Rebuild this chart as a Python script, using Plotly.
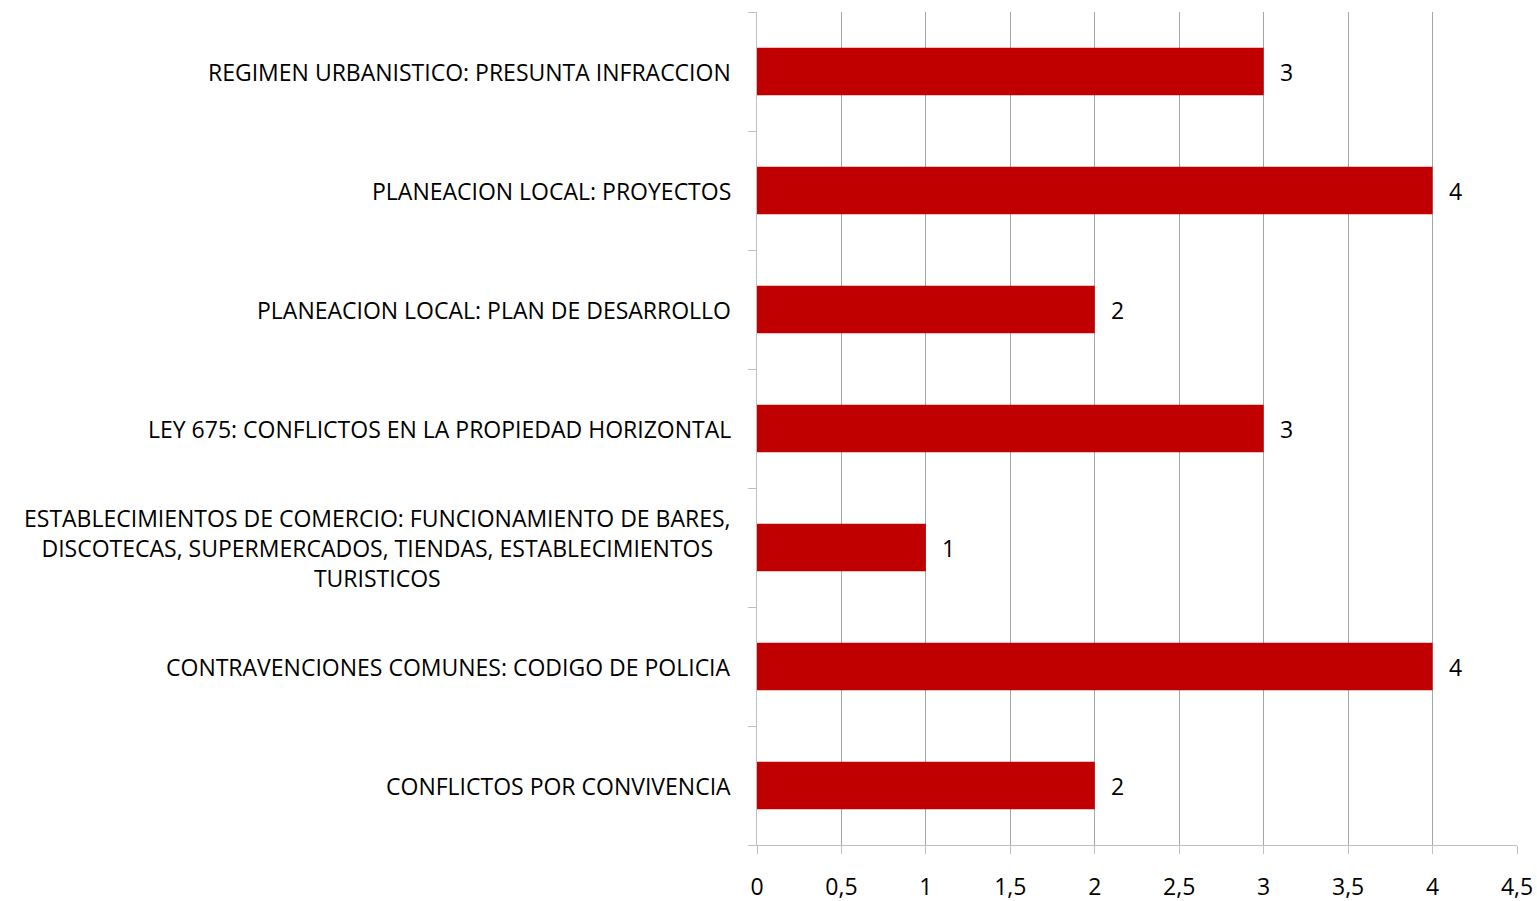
import plotly.graph_objects as go

categories = [
    "REGIMEN URBANISTICO: PRESUNTA INFRACCION",
    "PLANEACION LOCAL: PROYECTOS",
    "PLANEACION LOCAL: PLAN DE DESARROLLO",
    "LEY 675: CONFLICTOS EN LA PROPIEDAD HORIZONTAL",
    "ESTABLECIMIENTOS DE COMERCIO: FUNCIONAMIENTO DE BARES,<br>DISCOTECAS, SUPERMERCADOS, TIENDAS, ESTABLECIMIENTOS<br>TURISTICOS",
    "CONTRAVENCIONES COMUNES: CODIGO DE POLICIA",
    "CONFLICTOS POR CONVIVENCIA",
]
values = [3, 4, 2, 3, 1, 4, 2]

FONT = "Open Sans"
FS = 23
fig = go.Figure()
fig.add_trace(go.Bar(
    x=values, y=list(range(len(categories))), orientation="h",
    marker=dict(color="#C00000", line=dict(width=0)),
    width=0.4, hoverinfo="skip",
))

for i, c in enumerate(categories):
    fig.add_annotation(
        x=0, xref="paper", y=i, yref="y", text=c, showarrow=False,
        xanchor="right", yanchor="middle", align="center", xshift=-24,
        font=dict(family=FONT, size=FS, color="#000000"),
    )
    fig.add_annotation(
        x=values[i], xref="x", y=i, yref="y", text=str(values[i]), showarrow=False,
        xanchor="left", yanchor="middle", xshift=14,
        font=dict(family=FONT, size=FS, color="#000000"),
    )

fig.update_layout(
    width=1537, height=901,
    margin=dict(l=757, r=20, t=12, b=56, autoexpand=False),
    paper_bgcolor="white", plot_bgcolor="white",
    separators=",.",
    showlegend=False,
    font=dict(family=FONT, size=FS, color="#000000"),
)
fig.update_xaxes(
    range=[0, 4.5], dtick=0.5, tick0=0, automargin=False,
    showgrid=True, gridcolor="#A6A6A6", gridwidth=1,
    zeroline=False, showline=True, linecolor="#BFBFBF", linewidth=1,
    ticks="outside", ticklen=8, tickcolor="#BFBFBF",
    tickfont=dict(family=FONT, size=FS, color="#000000"),
    ticklabelstandoff=13, ticklabeloverflow="allow",
)
fig.update_yaxes(
    type="linear", range=[6.5, -0.5], automargin=False,
    tickvals=[i - 0.5 for i in range(len(categories) + 1)],
    showticklabels=False, showgrid=False, zeroline=False,
    showline=True, linecolor="#BFBFBF", linewidth=1,
    ticks="outside", ticklen=8, tickcolor="#BFBFBF",
)

fig.write_html(
    "out.html",
    config={"displayModeBar": False},
    post_script="document.body.style.margin='0';document.body.style.overflow='hidden';",
)
